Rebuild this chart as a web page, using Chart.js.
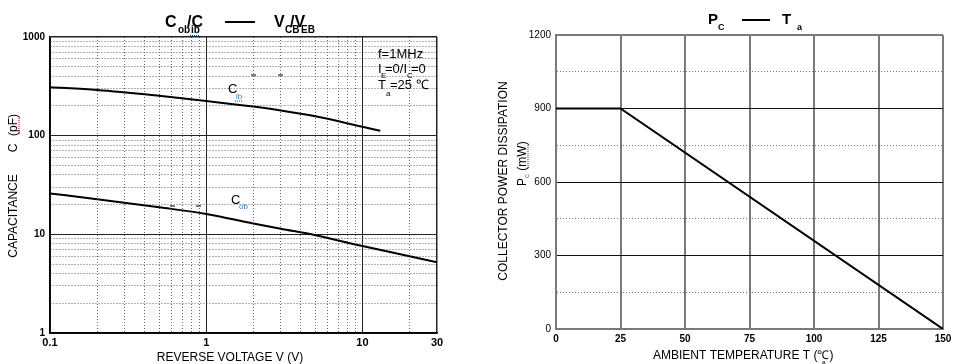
<!DOCTYPE html>
<html>
<head>
<meta charset="utf-8">
<script src="https://cdn.jsdelivr.net/npm/chart.js@4"></script>
<style>
  body { margin: 0; background: #fff; }
  #wrap { position: relative; width: 957px; height: 364px; }
  #capChart { position: absolute; left: 0; top: 0; }
  #pcChart { position: absolute; left: 480px; top: 0; }
</style>
</head>
<body>
<div id="wrap">
  <canvas id="capChart" width="480" height="364"></canvas>
  <canvas id="pcChart" width="477" height="364"></canvas>
</div>
<script>
// 데이터 (left: C - V, log/log)
const cibVoltage = [0.1, 0.2, 0.5, 1, 2, 3, 5, 10, 13];
const cibValues = [309, 291, 254, 225, 197, 180, 157, 123, 112];
const cobVoltage = [0.1, 0.2, 0.5, 1, 2, 3, 5, 10, 20, 30];
const cobValues = [26, 22.7, 18.8, 16.1, 12.9, 11.4, 9.8, 7.6, 6.0, 5.2];
const voltTickLabels = ['0.1', '1', '10', '30'];
const capTickLabels = ['1', '10', '100', '1000'];

// 데이터 (right: Pc - Ta)
const tempC = [0, 25, 150];
const powerMW = [900, 900, 0];
const tempTicks = [0, 25, 50, 75, 100, 125, 150];
const powerTicks = [0, 300, 600, 900, 1200];

const FONT = '"Liberation Sans", Arial, sans-serif';
Chart.defaults.color = '#000';
Chart.defaults.font.family = FONT;

function logTicks(min, max) {
  const out = [];
  for (let d = min; d < max; d *= 10) {
    for (let m = 1; m <= 9; m++) {
      const v = Number((d * m).toPrecision(3));
      if (v <= max) out.push(v);
    }
  }
  if (out[out.length - 1] !== max) out.push(max);
  return out;
}
const isDecade = v => Math.abs(Math.log10(v) - Math.round(Math.log10(v))) < 1e-9;

function txt(ctx, s, x, y, size, weight, color, align) {
  ctx.font = (weight || 'normal') + ' ' + size + 'px ' + FONT;
  ctx.fillStyle = color || '#000';
  ctx.textAlign = align || 'left';
  ctx.textBaseline = 'alphabetic';
  ctx.fillText(s, x, y);
}
function seg(ctx, x1, y1, x2, y2, w, color, dash) {
  ctx.save();
  ctx.beginPath();
  ctx.lineWidth = w;
  ctx.strokeStyle = color;
  ctx.setLineDash(dash || []);
  ctx.moveTo(x1, y1);
  ctx.lineTo(x2, y2);
  ctx.stroke();
  ctx.restore();
}

// 왼쪽 그래프 텍스트
const capText = {
  id: 'capText',
  afterDraw(chart) {
    const ctx = chart.ctx;
    ctx.save();
    // title
    txt(ctx, 'C', 165, 27, 16, 'bold');
    txt(ctx, 'ob', 178, 33, 10, 'bold');
    txt(ctx, '/C', 187, 27, 16, 'bold');
    txt(ctx, 'ib', 191, 33, 10, 'bold');
    seg(ctx, 190, 35.5, 199, 35.5, 1, '#d00', [1, 1]);
    seg(ctx, 225, 22, 255, 22, 2, '#000');
    txt(ctx, 'V', 274, 27, 16, 'bold');
    txt(ctx, 'CB', 285, 33, 10, 'bold');
    txt(ctx, '/V', 290, 27, 16, 'bold');
    txt(ctx, 'EB', 301, 33, 10, 'bold');
    // conditions
    txt(ctx, 'f=1MHz', 378, 58, 13);
    txt(ctx, 'I', 378, 73, 13);
    txt(ctx, 'E', 381, 78, 8);
    txt(ctx, '=0/I', 385, 73, 13);
    txt(ctx, 'C', 407, 78, 8);
    txt(ctx, '=0', 411, 73, 13);
    txt(ctx, 'T', 378, 89, 13);
    txt(ctx, 'a', 386, 96, 8);
    txt(ctx, '=25 \u2103', 390, 89, 13);
    // curve labels
    txt(ctx, 'C', 228, 93, 13);
    txt(ctx, 'ib', 236, 99, 8, 'normal', '#2e7bc4');
    seg(ctx, 235, 101, 243, 101, 1, '#d00', [1, 1]);
    txt(ctx, 'C', 231, 204, 13);
    txt(ctx, 'ob', 239, 209, 8, 'normal', '#2e7bc4');
    // stray marks from the original sheet
    seg(ctx, 251, 75, 256, 75, 1, '#000');
    seg(ctx, 278, 75, 283, 75, 1, '#000');
    seg(ctx, 170, 206, 175, 206, 1, '#000');
    seg(ctx, 196, 206, 201, 206, 1, '#000');
    // axis titles
    txt(ctx, 'REVERSE VOLTAGE V (V)', 230, 361, 12, 'normal', '#000', 'center');
    ctx.translate(17, 0);
    ctx.rotate(-Math.PI / 2);
    txt(ctx, 'CAPACITANCE', -216, 0, 12, 'normal', '#000', 'center');
    txt(ctx, 'C', -148, 0, 12, 'normal', '#000', 'center');
    txt(ctx, '(pF)', -125, 0, 12, 'normal', '#000', 'center');
    seg(ctx, -133, 2, -117, 2, 1, '#d00', [1, 1]);
    ctx.restore();
  }
};

new Chart(document.getElementById('capChart'), {
  type: 'line',
  data: {
    datasets: [
      {
        label: 'Cib',
        data: cibVoltage.map((v, i) => ({ x: v, y: cibValues[i] })),
        borderColor: '#000',
        borderWidth: 2,
        pointRadius: 0,
        cubicInterpolationMode: 'monotone',
      },
      {
        label: 'Cob',
        data: cobVoltage.map((v, i) => ({ x: v, y: cobValues[i] })),
        borderColor: '#000',
        borderWidth: 2,
        pointRadius: 0,
        cubicInterpolationMode: 'monotone',
      }
    ]
  },
  options: {
    responsive: false,
    animation: false,
    layout: { padding: { left: 0, right: 43, top: 37, bottom: 0 } },
    plugins: { legend: { display: false }, tooltip: { enabled: false } },
    scales: {
      x: {
        type: 'logarithmic',
        min: 0.1,
        max: 30,
        afterBuildTicks: s => { s.ticks = logTicks(0.1, 30).map(v => ({ value: v })); },
        afterFit: s => { s.height = 31; },
        ticks: {
          autoSkip: false,
          maxRotation: 0,
          padding: 3,
          font: { size: 11, weight: 'bold' },
          callback: v => voltTickLabels.includes(String(v)) ? String(v) : ''
        },
        grid: {
          drawTicks: false,
          color: c => (c.tick && (isDecade(c.tick.value) || c.tick.value === 30)) ? '#222' : '#666',
          lineWidth: c => (c.tick && c.tick.value === 30) ? 1.5 : 1,
        },
        border: {
          color: '#000',
          width: 1.5,
          dash: c => (c.tick && !(isDecade(c.tick.value) || c.tick.value === 30)) ? [1, 2] : []
        }
      },
      y: {
        type: 'logarithmic',
        min: 1,
        max: 1000,
        afterBuildTicks: s => { s.ticks = logTicks(1, 1000).map(v => ({ value: v })); },
        afterFit: s => { s.width = 50; },
        ticks: {
          autoSkip: false,
          padding: 5,
          font: { size: 10, weight: 'bold' },
          callback: v => capTickLabels.includes(String(v)) ? String(v) : ''
        },
        grid: {
          drawTicks: false,
          color: c => (c.tick && isDecade(c.tick.value)) ? '#222' : '#666',
          lineWidth: c => (c.tick && c.tick.value === 1000) ? 1.5 : 1,
        },
        border: {
          color: '#000',
          width: 1.5,
          dash: c => (c.tick && !isDecade(c.tick.value)) ? [1, 2] : []
        }
      }
    }
  },
  plugins: [capText]
});

// 오른쪽 그래프 텍스트
const pcText = {
  id: 'pcText',
  afterDraw(chart) {
    const ctx = chart.ctx;
    ctx.save();
    txt(ctx, 'P', 228, 24, 15, 'bold');
    txt(ctx, 'C', 238, 30, 9, 'bold');
    seg(ctx, 262, 20, 290, 20, 2, '#000');
    txt(ctx, 'T', 302, 24, 15, 'bold');
    txt(ctx, 'a', 317, 30, 9, 'bold');
    txt(ctx, 'AMBIENT TEMPERATURE T (\u2103)', 173, 359, 12);
    txt(ctx, 'a', 342, 364, 6);
    ctx.translate(0, 0);
    ctx.rotate(-Math.PI / 2);
    txt(ctx, 'COLLECTOR POWER DISSIPATION', -181, 27, 12, 'normal', '#000', 'center');
    txt(ctx, 'P', -186, 46, 12);
    txt(ctx, 'c', -178, 49, 8, 'normal', '#2e7bc4');
    txt(ctx, ' (mW)', -174, 46, 12);
    seg(ctx, -168, 48, -145, 48, 1, '#d00', [1, 1]);
    ctx.restore();
  }
};

new Chart(document.getElementById('pcChart'), {
  type: 'line',
  data: {
    datasets: [{
      label: 'Pc',
      data: tempC.map((t, i) => ({ x: t, y: powerMW[i] })),
      borderColor: '#000',
      borderWidth: 2,
      pointRadius: 0,
      tension: 0,
    }]
  },
  options: {
    responsive: false,
    animation: false,
    layout: { padding: { left: 0, right: 14, top: 35, bottom: 0 } },
    plugins: { legend: { display: false }, tooltip: { enabled: false } },
    scales: {
      x: {
        type: 'linear',
        min: 0,
        max: 150,
        afterBuildTicks: s => { s.ticks = tempTicks.map(v => ({ value: v })); },
        afterFit: s => { s.height = 35; },
        ticks: {
          autoSkip: false,
          maxRotation: 0,
          padding: 4,
          font: { size: 10, weight: 'bold' }
        },
        grid: { drawTicks: false, color: '#7a7a7a', lineWidth: 2 },
        border: { color: '#7a7a7a', width: 2 }
      },
      y: {
        type: 'linear',
        min: 0,
        max: 1200,
        afterBuildTicks: s => {
          const t = [];
          for (let i = 0; i < powerTicks.length; i++) {
            t.push({ value: powerTicks[i] });
            if (i < powerTicks.length - 1) t.push({ value: (powerTicks[i] + powerTicks[i + 1]) / 2 });
          }
          s.ticks = t;
        },
        afterFit: s => { s.width = 76; },
        ticks: {
          autoSkip: false,
          padding: 5,
          font: { size: 10 },
          callback: v => powerTicks.includes(v) ? String(v) : ''
        },
        grid: {
          drawTicks: false,
          color: c => (c.tick && c.tick.value === 1200) ? '#7a7a7a' : (c.tick && powerTicks.includes(c.tick.value) ? '#111' : '#777'),
          lineWidth: c => (c.tick && c.tick.value === 1200) ? 2 : 1,
        },
        border: {
          color: '#7a7a7a',
          width: 2,
          dash: c => (c.tick && !powerTicks.includes(c.tick.value)) ? [1, 2] : []
        }
      }
    }
  },
  plugins: [pcText]
});
</script>
</body>
</html>
